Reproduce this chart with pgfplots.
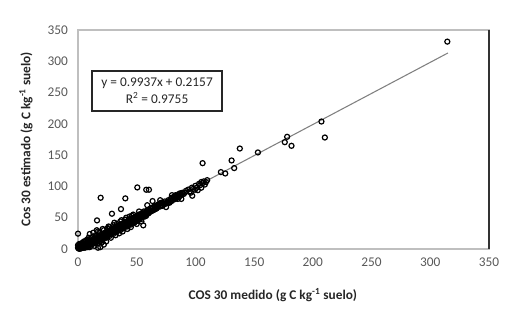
\documentclass[border=0pt]{standalone}
\usepackage{pgfplots}
\pgfplotsset{compat=1.18}
\usepackage{fontspec}
\setmainfont{Carlito}
\definecolor{tickgray}{HTML}{595959}
\definecolor{axgray}{HTML}{BFBFBF}
\definecolor{trendgray}{HTML}{808080}
\begin{document}
\begin{tikzpicture}
\useasboundingbox (0,0) rectangle (392.25pt,234.75pt);
\begin{axis}[
  at={(58.5pt,48pt)}, anchor=south west,
  width=308.25pt, height=164.25pt, scale only axis,
  xmin=0, xmax=350, ymin=0, ymax=350,
  xtick={0,50,...,350}, ytick={0,50,...,350},
  major tick length=0pt,
  axis line style={axgray, line width=0.8pt},
  tick label style={font=\fontsize{10}{12}\selectfont, text=tickgray},
  /pgf/number format/assume math mode=true,
  xticklabel style={yshift=-3pt},
  yticklabel style={xshift=-4pt},
  xlabel={\textbf{COS 30 medido (g C kg\textsuperscript{-1} suelo)}},
  ylabel={\textbf{Cos 30 estimado (g C kg\textsuperscript{-1} suelo)}},
  label style={font=\fontsize{10}{12}\selectfont, text=black!85},
  xlabel style={at={(axis description cs:0.474,-0.21)}, anchor=center},
  ylabel style={at={(axis description cs:-0.1265,0.5)}, anchor=center, rotate=0},
  clip=false,
]
\addplot[trendgray, line width=0.8pt] coordinates {(0,0.2157) (315,313.23)};
\addplot[only marks, mark=o, mark size=1.9pt, mark options={line width=0.9pt, black}] coordinates {
(0.5,1)(1,3)(1.5,0.5)(2,2)(2,5)(2.5,1)(3,4)(3,1.5)(3.5,6)(4,3)(4,7)(4.5,2)(5,5)(5,8)(5.5,3)(6,6)(6,2)(6.5,9)(7,5)(7,8)(7.5,4)(8,10)(8,6)(8.5,3)(9,8)(9,12)(9.5,6)(10,9)(10,13)(10.5,7)(11,11)(11,5)(11.5,14)(12,10)(12,8)(12.5,13)(13,12)(13,16)(13.5,9)(14,14)(14,11)(14.5,17)(15,13)(15,10)(15.5,16)(16,15)(16,19)(16.5,12)(17,17)(17,14)(17.5,20)(18,16)(18,12)(18.5,19)(19,18)(19,22)(19.5,15)(20,20)(20,17)(20.5,23)(21,19)(21,14)(21.5,22)(22,21)(22,25)(22.5,18)(23,23)(23,20)(23.5,26)(24,22)(24,18)(24.5,25)(25,24)(25,28)(25.5,21)(26,26)(26,23)(26.5,29)(27,25)(27,21)(27.5,28)(28,27)(28,31)(28.5,24)(29,29)(29,26)(29.5,32)(30,28)(30,24)(30.5,31)(31,30)(31,34)(31.5,27)(32,32)(32,29)(32.5,35)(33,31)(33,27)(33.5,34)(34,33)(34,37)(34.5,30)(35,35)(35,32)(35.5,38)(36,34)(36,30)(36.5,37)(37,36)(37,40)(37.5,33)(38,38)(38,35)(38.5,41)(39,37)(39,33)(39.5,40)(40,39)(40,43)(40.5,36)(41,41)(41,38)(41.5,44)(42,40)(42,36)(42.5,43)(43,42)(43,46)(43.5,39)(44,44)(44,41)(44.5,47)(45,43)(45,39)(45.5,46)(46,45)(46,49)(46.5,42)(47,47)(47,44)(47.5,50)(48,46)(48,42)(48.5,49)(49,48)(49,52)(49.5,45)(50,50)(50,47)(50.5,53)(51,49)(51,45)(51.5,52)(52,51)(52,55)(52.5,48)(53,53)(53,50)(53.5,56)(54,52)(54,48)(54.5,55)(55,54)(55,57)(56,52)(56,56)(57,55)(57,59)(58,57)(58,53)
(1,4.5)(2.5,3.5)(3.5,2.5)(4.5,5.5)(5.5,7)(6.5,4)(7.5,7)(8.5,8)(9.5,10)(10.5,11)(11.5,9)(12.5,11)(13.5,14)(14.5,12)(15.5,14)(16.5,17)(17.5,15)(18.5,17)(19.5,20)(20.5,18)(21.5,20)(22.5,23)(23.5,21)(24.5,23)(25.5,26)(26.5,24)(27.5,26)(28.5,29)(29.5,27)(30.5,29)(31.5,32)(32.5,30)(33.5,32)(34.5,35)(35.5,33)(36.5,35)(37.5,38)(38.5,36)(39.5,38)(40.5,41)(41.5,39)(42.5,41)(43.5,44)(44.5,42)(45.5,44)(46.5,47)(47.5,45)(48.5,47)(49.5,50)(50.5,48)(51.5,50)(52.5,53)(53.5,51)(54.5,53)(55.5,56)(56.5,54)(57.5,56)(58.5,59)(59.5,57)
(2,8)(4,10)(6,12)(8,15)(10,3)(12,19)(14,5)(15,22)(18,26)(20,10)(22,30)(24,12)(25,33)(27,35)(28,18)(30,38)(32,22)(33,40)(35,25)(36,44)(38,28)(40,47)(42,32)(44,52)(45,35)(47,55)(50,40)(52,60)(54,44)(13,26)(10,24)(9,18)(7,14)(5,12)(3,9)(17,28)(16,30)(21,32)(26,36)(31,42)(37,46)(41,50)(46,53)(19,3)(17,2)(22,7)(1,8)(0,6)(0,2)(1,0.5)
(56,60)(57,52)(58,58)(59,62)(60,57)(60,63)(61,59)(62,65)(62,60)(63,61)(64,66)(64,62)(65,63)(65,68)(66,64)(67,70)(67,65)(68,67)(69,72)(70,68)(70,73)(71,70)(72,74)(72,69)(73,71)(74,76)(75,73)(76,75)(77,78)(78,74)(79,80)(80,77)(80,82)(81,79)(82,84)(83,80)(84,85)(84,82)(85,86)(86,83)(86,88)(87,85)(88,87)(89,90)(90,88)(92,93)(94,95)(95,92)(97,98)(98,96)(100,101)(101,98)(103,104)(104,102)(105,107)(106,105)(107,108)(108,103)(109,107)(110,110)(105,98)(102,94)(85,80)(75,67)(70,78)(59,70)(80,86)(88,80)(96,90)
(61,62)(63,66)(66,68)(68,70)(71,74)(74,72)(77,74)(79,77)(82,81)(83,86)(87,89)(91,90)
(63.5,76.6)(97.3,85.1)(99.6,94.7)(55.6,37.8)(16.2,45.7)(28.9,56.4)(36.6,63.8)(19.3,81.9)(40.3,80.9)(50.5,98.4)(58.1,94.7)(60.4,94.7)(0,24.5)
(106.1,137.2)(121.7,122.9)(125.4,120.7)(130.8,141.5)(133.0,129.3)(137.8,160.6)(153.2,154.3)(176.1,170.7)(178.1,179.3)(181.8,164.9)(207.3,203.7)(210.2,178.2)(314.5,331.4)
};
\node[draw=black!85, line width=1pt, fill=white, align=center, minimum width=97.5pt, minimum height=30pt, inner sep=2pt, font=\fontsize{10}{12.75}\selectfont, text=black!85] at (axis cs:67.3,252.5) {y = 0.9937x + 0.2157\\R\textsuperscript{2} = 0.9755};
\draw[black!80, line width=1pt] (rel axis cs:1,0) -- (rel axis cs:1,1);
\end{axis}
\end{tikzpicture}
\end{document}
